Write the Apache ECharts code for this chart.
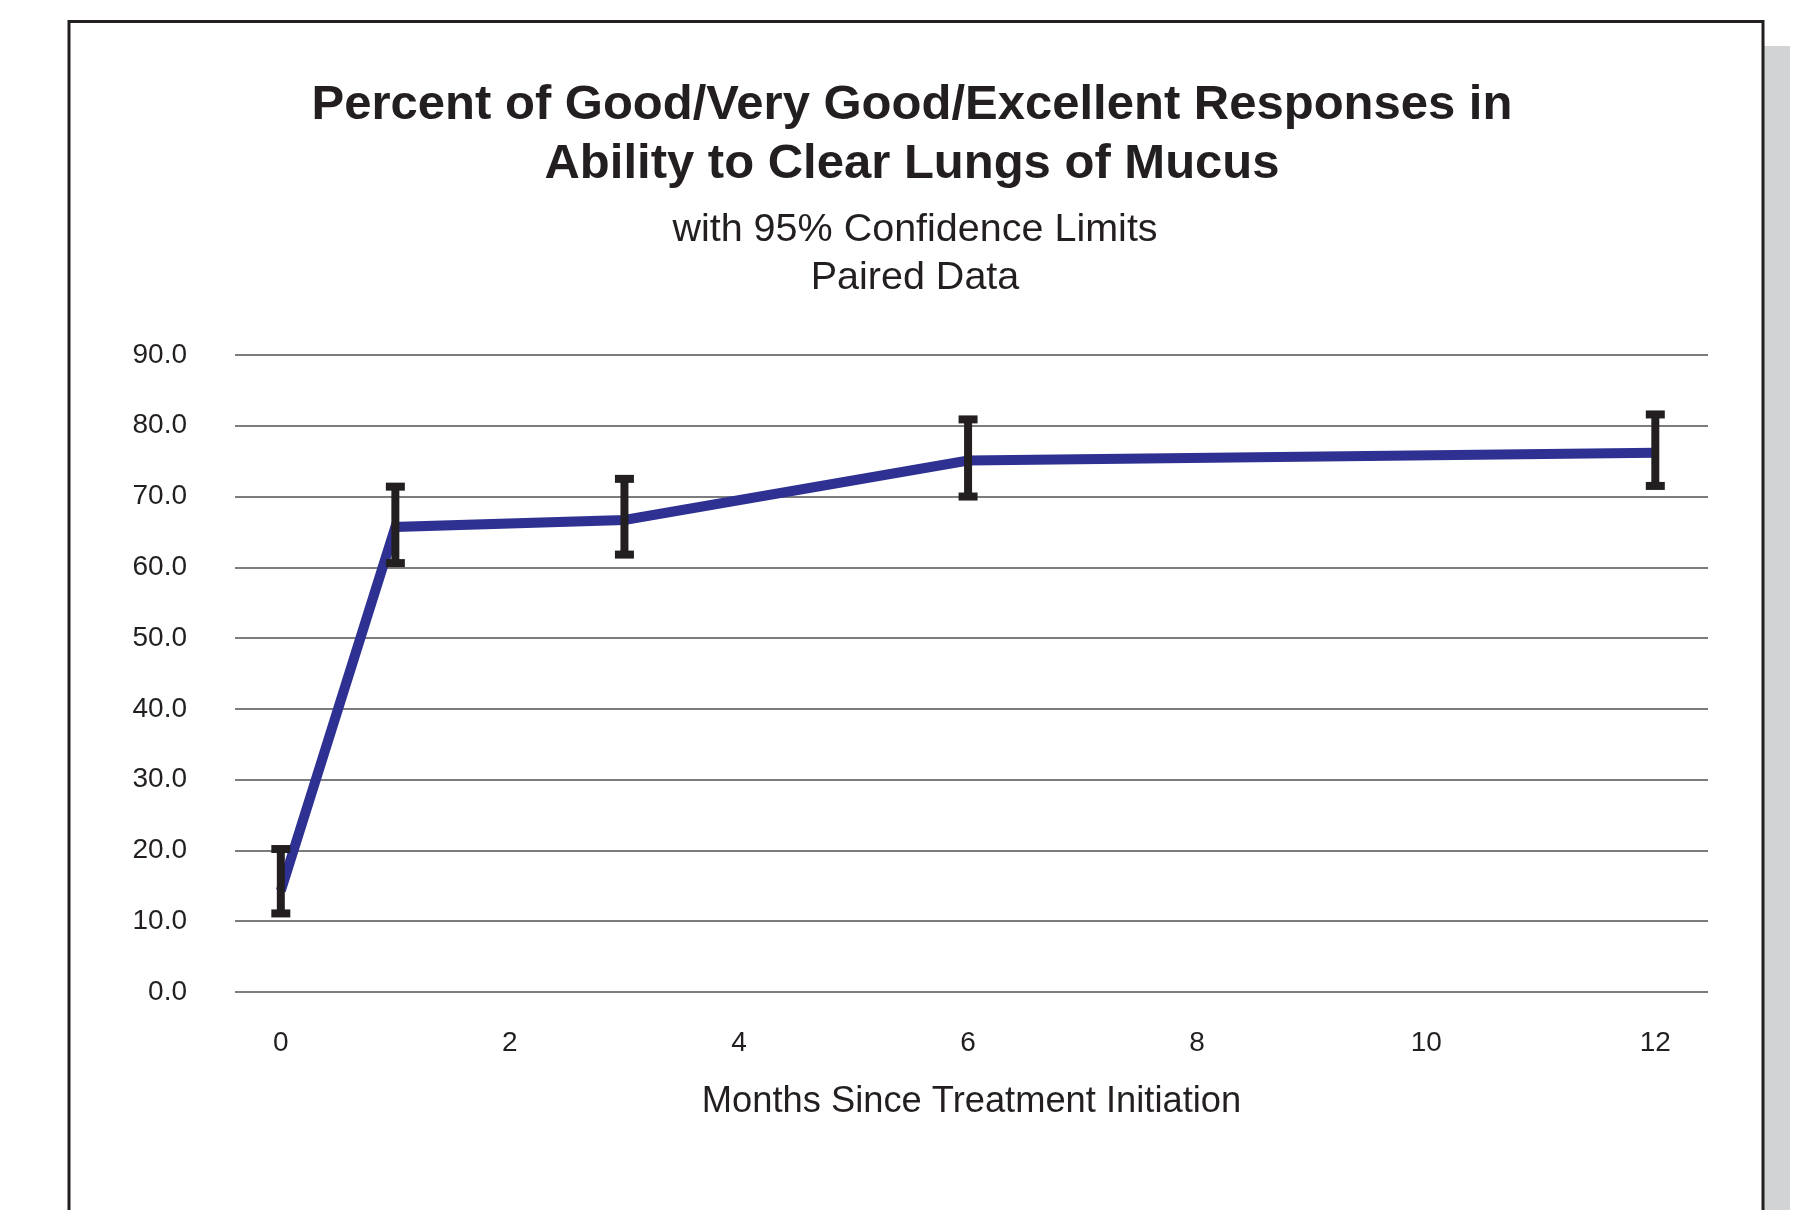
<!DOCTYPE html>
<html>
<head>
<meta charset="utf-8">
<title>Percent of Good/Very Good/Excellent Responses</title>
<script src="https://cdn.jsdelivr.net/npm/echarts@6/dist/echarts.min.js"></script>
<style>
  html, body { margin: 0; padding: 0; background: #ffffff; }
  #chart { width: 1800px; height: 1210px; }
</style>
</head>
<body>
<div id="chart"></div>
<script>
// Months since treatment initiation at which responses were measured
const months = [0, 1, 3, 6, 12];
// Percent of good / very good / excellent responses
const percent = [14.3, 65.7, 66.7, 75.1, 76.2];
// 95% confidence limits
const lowerLimit = [11.1, 60.6, 61.8, 70.0, 71.5];
const upperLimit = [20.2, 71.4, 72.5, 80.9, 81.6];
// Tick labels along the month axis
const monthTicks = [0, 2, 4, 6, 8, 10, 12];

const INK = '#231f20';
const LINE_BLUE = '#2e3192';
const FONT = '"Liberation Sans", Arial, Helvetica, sans-serif';

const lineData = months.map((m, i) => [m, percent[i]]);
const barData = months.map((m, i) => [m, lowerLimit[i], upperLimit[i]]);

function renderErrorBar(params, api) {
  const x = api.value(0);
  const lo = api.coord([x, api.value(1)]);
  const hi = api.coord([x, api.value(2)]);
  const stemW = 8, capW = 19, capH = 8;
  const style = { fill: INK };
  return {
    type: 'group',
    children: [
      { type: 'rect', shape: { x: hi[0] - stemW / 2, y: hi[1], width: stemW, height: lo[1] - hi[1] }, style },
      { type: 'rect', shape: { x: hi[0] - capW / 2, y: hi[1] - capH / 2, width: capW, height: capH }, style },
      { type: 'rect', shape: { x: lo[0] - capW / 2, y: lo[1] - capH / 2, width: capW, height: capH }, style }
    ]
  };
}

const chart = echarts.init(document.getElementById('chart'), null, { renderer: 'canvas' });

chart.setOption({
  backgroundColor: '#ffffff',
  animation: false,
  graphic: [
    // drop shadow strip and page frame
    { type: 'rect', shape: { x: 1764, y: 46, width: 26, height: 1200 }, style: { fill: '#d1d3d4' } },
    { type: 'rect', shape: { x: 69, y: 21.5, width: 1694, height: 1300 }, style: { fill: null, stroke: INK, lineWidth: 3 } }
  ],
  title: [
    {
      text: 'Percent of Good/Very Good/Excellent Responses in\nAbility to Clear Lungs of Mucus',
      left: 907,
      top: 71,
      textAlign: 'center',
      textStyle: { fontFamily: FONT, fontWeight: 'bold', fontSize: 49, lineHeight: 59, color: INK }
    },
    {
      text: 'with 95% Confidence Limits\nPaired Data',
      left: 910,
      top: 201,
      textAlign: 'center',
      textStyle: { fontFamily: FONT, fontWeight: 'normal', fontSize: 39.5, lineHeight: 48, color: INK }
    }
  ],
  grid: { left: 235, right: 92, top: 355, bottom: 218, containLabel: false },
  xAxis: {
    type: 'value',
    min: -0.4,
    max: 12.46,
    name: 'Months Since Treatment Initiation',
    nameLocation: 'middle',
    nameGap: 92,
    nameTextStyle: { fontFamily: FONT, fontSize: 36.3, color: INK },
    axisLine: { show: false },
    axisTick: { show: false },
    splitLine: { show: false },
    axisLabel: {
      customValues: monthTicks,
      margin: 37,
      fontFamily: FONT,
      fontSize: 28,
      color: INK
    }
  },
  yAxis: {
    type: 'value',
    min: 0,
    max: 90,
    interval: 10,
    axisLine: { show: false },
    axisTick: { show: false },
    axisLabel: {
      margin: 48,
      fontFamily: FONT,
      fontSize: 28,
      color: INK,
      formatter: v => v.toFixed(1)
    },
    splitLine: { show: true, lineStyle: { color: '#4f5052', width: 1.5 } }
  },
  series: [
    {
      type: 'line',
      data: lineData,
      symbol: 'none',
      z: 3,
      lineStyle: { color: LINE_BLUE, width: 10, cap: 'butt', join: 'miter' }
    },
    {
      type: 'custom',
      data: barData,
      renderItem: renderErrorBar,
      z: 4,
      encode: { x: 0, y: [1, 2] }
    }
  ]
});
</script>
</body>
</html>
